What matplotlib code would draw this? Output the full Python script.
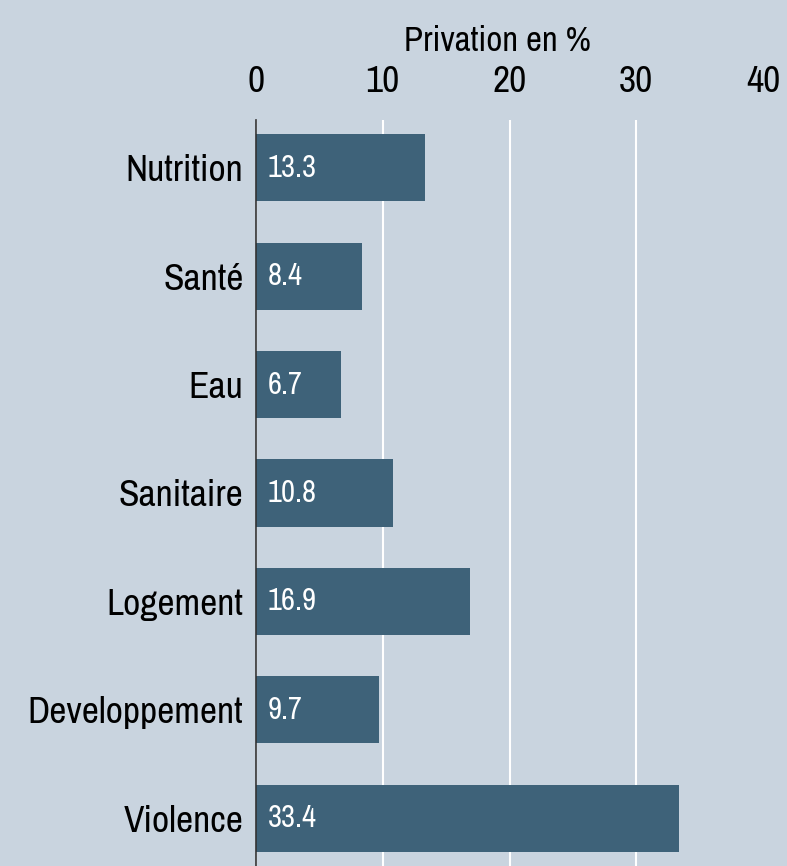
import matplotlib.pyplot as plt

# Données
categories = ['Nutrition', 'Santé', 'Eau', 'Sanitaire', 'Logement', 'Developpement', 'Violence']
valeurs = [13.3, 8.4, 6.7, 10.8, 16.9, 9.7, 33.4]
graduations = [0, 10, 20, 30, 40]

fond = '#c9d4df'
couleur_barre = '#3e6279'

plt.rcParams['font.family'] = ['Archivo Narrow', 'DejaVu Sans']

fig = plt.figure(figsize=(7.87, 8.66), dpi=100, facecolor=fond)
ax = fig.add_axes([256 / 787, 0.0, (763 - 256) / 787, 1 - 120 / 866], facecolor=fond)

pos = list(range(len(categories)))
ax.barh(pos, valeurs, height=0.62, color=couleur_barre, zorder=3)
for p, v in zip(pos, valeurs):
    ax.text(0.9, p, f'{v:.1f}', color='white', fontsize=22, va='center', ha='left', zorder=4)

ax.set_xlim(0, 40)
ax.set_ylim(len(categories) - 0.56, -0.44)
ax.set_yticks(pos)
ax.set_yticklabels(categories, fontsize=27)
ax.set_xticks(graduations)
ax.set_xticklabels([str(g) for g in graduations], fontsize=27)
ax.xaxis.tick_top()
ax.xaxis.set_label_position('top')
ax.set_xlabel('Privation en %', fontsize=25, labelpad=10)
ax.xaxis.label.set_x(0.477)
ax.tick_params(axis='x', length=0, pad=16)
ax.tick_params(axis='y', length=0, pad=9)

ax.grid(axis='x', color='white', linewidth=1.5, zorder=1)
ax.get_xgridlines()[-1].set_visible(False)
for s in ['top', 'right', 'bottom']:
    ax.spines[s].set_visible(False)
ax.spines['left'].set_color('#333333')
ax.spines['left'].set_linewidth(1.2)
ax.spines['left'].set_zorder(5)

fig.savefig('out.png', dpi=100, facecolor=fond)
